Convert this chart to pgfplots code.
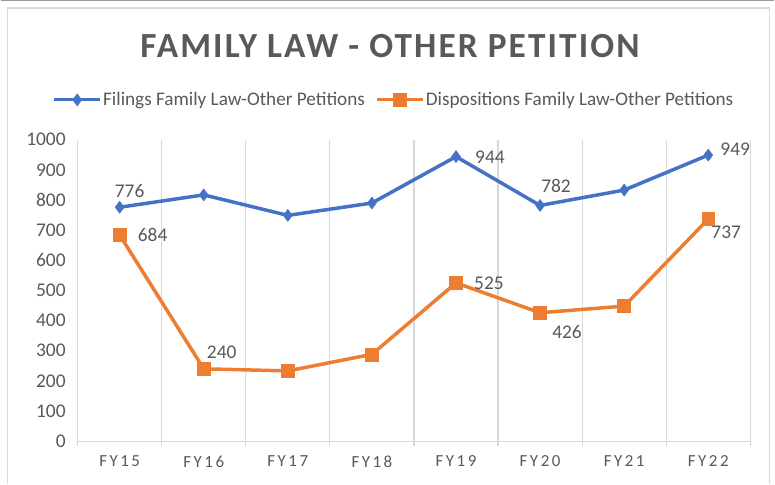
\documentclass[border=0pt]{standalone}
\usepackage{fontspec}
\setmainfont{Carlito}
\newfontfamily\titlefont[LetterSpace=6]{Carlito}
\newfontfamily\catfont[LetterSpace=15]{Carlito}
\usepackage{pgfplots}
\pgfplotsset{compat=1.18}
\definecolor{fblue}{HTML}{4472C4}
\definecolor{forange}{HTML}{ED7D31}
\definecolor{tgray}{HTML}{595959}
\definecolor{ggray}{HTML}{D9D9D9}
\begin{document}
\begin{tikzpicture}
\fill[white] (0,0) rectangle (775bp,-485bp);
\draw[gray!80, line width=1.5bp] (0,-0.75bp) -- (775bp,-0.75bp);
\draw[ggray, line width=1.2bp] (7bp,-485bp) -- (7bp,-8bp) -- (770bp,-8bp) -- (770bp,-485bp);
\node[font=\titlefont\bfseries\fontsize{35.5}{40}\selectfont, text=tgray] at (390bp,-46bp) {FAMILY LAW - OTHER PETITION};
\begin{axis}[
  at={(77bp,-442bp)}, anchor=south west,
  scale only axis, width=674bp, height=302bp,
  xmin=-0.5, xmax=7.5, ymin=0, ymax=1000,
  axis x line=bottom, axis y line=left,
  axis line style={ggray, line width=1.1bp, -},
  y axis line style={draw=none},
  xtick={0,...,7},
  xticklabels={FY15,FY16,FY17,FY18,FY19,FY20,FY21,FY22},
  minor xtick={-0.5,0.5,1.5,2.5,3.5,4.5,5.5,6.5,7.5},
  xminorgrids=true,
  minor grid style={ggray, line width=1.1bp},
  major tick length=0pt,
  minor tick length=5bp,
  minor tick style={ggray, line width=1.1bp},
  tick align=outside,
  ytick={0,100,...,1000},
  /pgf/number format/1000 sep={},
  yticklabel style={font=\fontsize{19.5}{22}\selectfont, text=tgray, anchor=east, xshift=-8.5bp},
  xticklabel style={font=\catfont\fontsize{17}{20}\selectfont, text=tgray, yshift=-11bp},
  /pgf/number format/assume math mode=true,
  legend columns=2,
  legend style={draw=none, fill=none, at={(axis description cs:0.470,1.132)}, anchor=center,
    font=\fontsize{19.3}{22}\selectfont, text=tgray,
    nodes={inner sep=1.5bp},
    /tikz/every even column/.append style={column sep=9bp},
    legend cell align=left},
  legend image code/.code={\draw[mark repeat=2,mark phase=2,#1,line width=3bp] plot coordinates {(0bp,0bp) (23bp,0bp) (46bp,0bp)};},
  clip=false,
]
\addplot[color=fblue, line width=3.5bp, mark=diamond*, mark size=6bp, mark options={solid, fill=fblue, line width=0.5bp}]
  coordinates {(0,776) (1,817) (2,749) (3,790) (4,944) (5,782) (6,833) (7,949)};
\addlegendentry{Filings Family Law-Other Petitions}
\addplot[color=forange, line width=3.5bp, mark=square*, mark size=6.5bp, mark options={solid, fill=forange, line width=0.5bp}]
  coordinates {(0,684) (1,240) (2,233) (3,288) (4,525) (5,426) (6,448) (7,737)};
\addlegendentry{Dispositions Family Law-Other Petitions}
\tikzset{dl/.style={font=\fontsize{19.5}{22}\selectfont, text=tgray, anchor=center}}
\node[dl, xshift=10bp, yshift=16bp] at (axis cs:0,776) {776};
\node[dl, xshift=33bp, yshift=0bp] at (axis cs:0,684) {684};
\node[dl, xshift=18bp, yshift=17bp] at (axis cs:1,240) {240};
\node[dl, xshift=34bp, yshift=-1bp] at (axis cs:4,944) {944};
\node[dl, xshift=33bp, yshift=0bp] at (axis cs:4,525) {525};
\node[dl, xshift=16bp, yshift=20bp] at (axis cs:5,782) {782};
\node[dl, xshift=27bp, yshift=-19bp] at (axis cs:5,426) {426};
\node[dl, xshift=27bp, yshift=6bp] at (axis cs:7,949) {949};
\node[dl, xshift=18bp, yshift=-13bp] at (axis cs:7,737) {737};
\end{axis}
\end{tikzpicture}
\end{document}
